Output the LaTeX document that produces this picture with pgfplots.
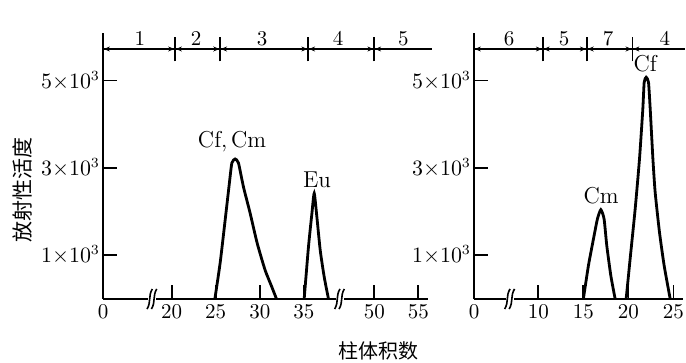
\documentclass[border=0pt]{standalone}
\usepackage{pgfplots}
\pgfplotsset{compat=1.18}
\usepackage{pgfplotstable}
\usepackage{fontspec}
\newfontfamily\cjk{Noto Sans CJK SC}
\usetikzlibrary{arrows.meta}

% left panel (column volumes, activity)
\pgfplotstableread{
v a
24.9 0
25.5 824
26.07 1808
26.55 2654
26.83 3112
27.2 3204
27.58 3112
28.15 2563
28.9 1968
29.7 1281
30.6 664
31.37 275
31.9 0
}\cfcm
\pgfplotstableread{
v a
35.04 0
35.53 1197
35.92 1961
36.18 2419
36.48 1883
36.86 1121
37.31 510
37.8 0
}\eu
% right panel
\pgfplotstableread{
v a
15.0 0
15.56 762
16.12 1373
16.56 1831
16.94 2043
17.3 1831
17.6 1220
18.05 533
18.53 0
}\cm
\pgfplotstableread{
v a
19.75 0
20.19 915
20.75 2059
21.23 3204
21.6 4348
21.75 4959
21.97 5073
22.23 4959
22.42 4348
22.72 3204
22.97 2442
23.45 1526
23.97 762
24.64 0
}\cf

\pgfplotsset{
  chrom/.style={
    scale only axis, clip=false,
    anchor=south west,
    height=133pt,
    ymin=0, ymax=6087,
    axis lines*=left,
    axis line style={line width=0.9pt},
    every tick/.style={line width=0.9pt, black},
    tick align=inside, major tick length=7pt,
    ytick={1000,3000,5000},
    yticklabels={$1{\times}10^3$,$3{\times}10^3$,$5{\times}10^3$},
    tick label style={font=\fontsize{10.5}{12}\selectfont},
    xticklabel style={yshift=1pt},
    yticklabel style={xshift=2pt},
  },
  curve/.style={black, line width=1.4pt, no marks, smooth, tension=0.35},
}
\newcommand\brk[1]{%
  \fill[white] (axis cs:#1-0.45,-90) rectangle (axis cs:#1+0.45,90);
  \draw[line width=0.8pt] (axis cs:#1-0.6,-230) .. controls (axis cs:#1-0.1,-60) and (axis cs:#1-0.5,60) .. (axis cs:#1,230);
  \draw[line width=0.8pt] (axis cs:#1-0.1,-230) .. controls (axis cs:#1+0.4,-60) and (axis cs:#1,60) .. (axis cs:#1+0.5,230);
}
\newcommand\sep[2]{%
  \draw[line width=0.9pt] (axis cs:#1,5435) -- (axis cs:#1,6000);
  \draw[-{Stealth[length=3pt,width=2.5pt]}] (axis cs:#1-#2,5721) -- (axis cs:#1-0.1,5721);
  \draw[-{Stealth[length=3pt,width=2.5pt]}] (axis cs:#1+#2,5721) -- (axis cs:#1+0.1,5721);
}
\newcommand\lab[2]{\node[font=\fontsize{10.5}{12}\selectfont] at (axis cs:#1,5960) {#2};}

\begin{document}
\begin{tikzpicture}
\useasboundingbox (0,0) rectangle (343pt,181.5pt);

% ---------- left panel ----------
\begin{axis}[chrom, at={(51.5pt,32pt)}, width=162.5pt,
  xmin=0, xmax=36.9,
  xtick={0,7.8,12.8,17.8,22.8,30.8,35.8},
  xticklabels={0,20,25,30,35,50,55}]
\addplot[curve] table[x expr=\thisrow{v}-12.2, y=a] {\cfcm};
\addplot[curve] table[x expr=\thisrow{v}-12.2, y=a] {\eu};
\node[font=\fontsize{11.5}{13}\selectfont] at (axis cs:14.66,3593) {Cf,\,Cm};
\node[font=\fontsize{11.5}{13}\selectfont] at (axis cs:24.3,2723) {Eu};
\brk{5.6}
\brk{26.9}
\draw[line width=0.9pt] (axis cs:0,5721) -- (axis cs:37.3,5721);
\sep{8.18}{1.2}
\sep{13.3}{1.2}
\sep{23.3}{1.2}
\sep{30.8}{1.2}
\draw[-{Stealth[length=3pt,width=2.5pt]}] (axis cs:1.2,5721) -- (axis cs:0.1,5721);
\lab{4.2}{1}
\lab{10.57}{2}
\lab{18.07}{3}
\lab{26.7}{4}
\lab{34.1}{5}
\end{axis}

% ---------- right panel ----------
\begin{axis}[chrom, at={(237pt,32pt)}, width=104.5pt,
  xmin=0, xmax=23.2,
  xtick={0,7.14,12.14,17.14,22.14},
  xticklabels={0,10,15,20,25}]
\addplot[curve] table[x expr=\thisrow{v}-2.86, y=a] {\cm};
\addplot[curve] table[x expr=\thisrow{v}-2.86, y=a] {\cf};
\node[font=\fontsize{11.5}{13}\selectfont] at (axis cs:14.1,2357) {Cm};
\node[font=\fontsize{11.5}{13}\selectfont] at (axis cs:19.0,5378) {Cf};
\brk{4.0}
\draw[line width=0.9pt] (axis cs:0,5721) -- (axis cs:23.4,5721);
\sep{7.63}{1.0}
\sep{12.52}{1.0}
\sep{17.59}{1.0}
\draw[-{Stealth[length=3pt,width=2.5pt]}] (axis cs:1.0,5721) -- (axis cs:0.1,5721);
\lab{3.9}{6}
\lab{10}{5}
\lab{14.9}{7}
\lab{21.2}{4}
\end{axis}

% axis titles
\node[rotate=90, font=\cjk\fontsize{10.5}{12}\selectfont] at (11pt,86.5pt) {放射性活度};
\node[font=\cjk\fontsize{10}{11}\selectfont] at (189pt,6pt) {柱体积数};
\end{tikzpicture}
\end{document}
